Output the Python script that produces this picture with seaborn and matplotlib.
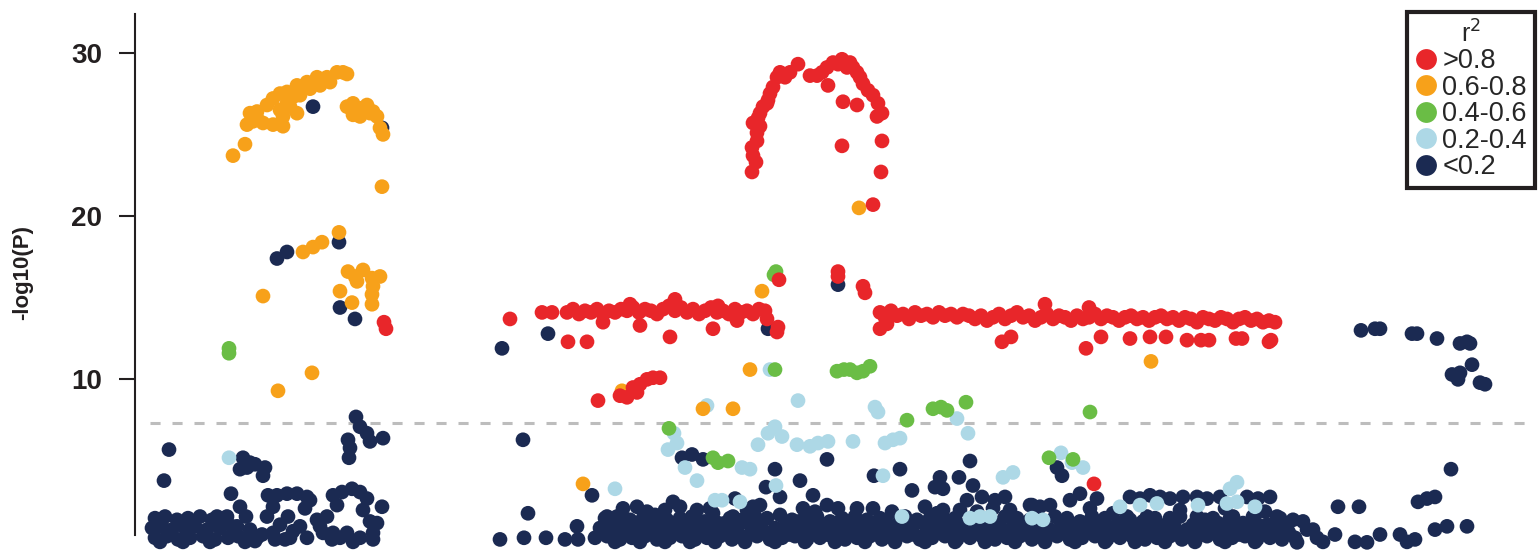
import pandas as pd
import numpy as np
import matplotlib
matplotlib.use('Agg')
import matplotlib.pyplot as plt
from matplotlib.lines import Line2D
import seaborn as sns

# LD bins, drawing order low -> high so the red SNPs end up on top
r2_bins = ['<0.2', '0.2-0.4', '0.4-0.6', '0.6-0.8', '>0.8']
legend_order = ['>0.8', '0.6-0.8', '0.4-0.6', '0.2-0.4', '<0.2']
r2_colors = {'>0.8': '#E8262A', '0.6-0.8': '#F7A11A', '0.4-0.6': '#6ABD45',
             '0.2-0.4': '#ADD8E6', '<0.2': '#1B2A52'}
gw_threshold = 7.3

# (position in kb from window start, -log10(P))
snps_r2_08 = [
    (617, 22.7), (618, 23.7), (617, 24.2), (621, 23.3), (622, 24.6), (622, 25.1), (625, 25.5), (623, 26.0),
    (618, 25.7), (625, 26.3), (628, 26.7), (632, 26.9), (633, 27.1), (635, 27.5), (638, 27.9), (642, 28.5),
    (645, 28.8), (650, 28.5), (655, 28.8), (663, 29.3), (675, 28.6), (682, 28.6), (687, 28.8), (692, 29.1),
    (698, 29.4), (703, 29.3), (707, 29.6), (712, 29.1), (715, 29.4), (718, 29.1), (693, 28.0), (708, 27.0),
    (722, 28.8), (725, 28.5), (728, 28.1), (722, 26.8), (733, 27.7), (738, 27.4), (743, 26.9), (747, 26.3),
    (742, 26.1), (707, 24.3), (747, 24.6), (746, 22.7), (738, 20.7),
    (644, 16.1), (703, 16.6), (703, 16.3), (728, 15.7), (730, 15.3), (643, 13.2), (642, 12.9),
    (249, 13.5), (251, 13.1),
    (463, 8.7), (485, 9.0), (492, 8.9), (498, 9.5), (502, 9.2), (505, 9.7), (512, 10.0), (518, 10.1), (525, 10.1),
    (959, 3.6),
    (375, 13.7), (407, 14.1), (417, 14.1),
    (432, 14.1), (438, 14.3), (444, 14.0), (450, 14.2), (456, 14.1), (462, 14.3), (468, 14.0), (474, 14.2),
    (480, 14.1), (486, 14.3), (492, 14.2), (498, 14.4), (504, 14.1), (510, 14.3), (516, 14.2), (522, 14.0),
    (528, 14.3), (534, 14.5), (540, 14.2), (546, 14.4), (552, 14.1), (558, 14.3), (564, 14.0), (570, 14.2),
    (576, 14.4), (582, 14.1), (588, 14.2), (594, 14.0), (600, 14.3), (606, 14.1), (612, 14.2), (618, 14.0),
    (624, 14.3), (630, 14.2), (632, 13.7),
    (540, 14.9), (495, 14.6), (583, 14.5), (468, 13.5), (505, 13.3), (578, 13.1), (535, 12.6), (433, 12.3),
    (452, 12.3), (602, 13.6),
    (745, 14.1), (750, 13.8), (756, 14.2), (762, 13.9), (768, 14.0), (774, 13.7), (780, 14.1), (786, 13.9),
    (792, 14.0), (798, 13.8), (804, 14.1), (810, 13.9), (816, 14.0), (822, 13.8), (828, 14.0), (834, 13.9),
    (840, 13.7), (846, 13.9), (852, 13.6), (858, 13.8), (864, 14.0), (870, 13.7), (876, 13.9), (882, 14.1),
    (888, 13.8), (894, 13.9), (900, 13.6), (906, 13.8), (912, 14.0), (918, 13.7), (924, 13.9), (930, 13.8),
    (936, 13.6), (942, 13.9), (948, 13.7), (954, 13.8), (960, 14.0), (966, 13.7), (972, 13.9), (978, 13.8),
    (984, 13.6), (990, 13.8), (996, 13.9), (1002, 13.7), (1008, 13.8), (1014, 13.6), (1020, 13.8), (1026, 13.9),
    (1032, 13.7), (1038, 13.8), (1044, 13.6), (1050, 13.8), (1056, 13.7), (1062, 13.5), (1068, 13.8), (1074, 13.7),
    (1080, 13.6), (1086, 13.8), (1092, 13.7), (1098, 13.5), (1104, 13.7), (1110, 13.8), (1116, 13.6), (1122, 13.7),
    (1128, 13.5), (1134, 13.6), (1140, 13.5),
    (745, 13.1), (752, 13.4), (910, 14.6), (954, 14.4), (867, 12.3), (876, 12.6), (951, 11.9), (966, 12.6),
    (995, 12.5), (1015, 12.6), (1031, 12.6), (1052, 12.4), (1066, 12.4), (1074, 12.4), (1101, 12.5), (1107, 12.5),
    (1134, 12.3), (1136, 12.4),
]

snps_r2_06 = [
    (98, 23.7), (110, 24.4), (112, 25.6), (115, 26.3), (122, 26.4), (132, 26.8), (138, 27.2), (145, 27.5),
    (152, 27.6), (162, 28.0), (172, 28.2), (182, 28.5), (192, 28.5), (202, 28.8), (208, 28.8), (212, 28.7),
    (118, 25.8), (128, 25.7), (138, 25.6), (148, 25.5), (145, 26.5), (152, 26.9), (158, 27.3), (162, 26.3),
    (148, 26.1), (122, 26.0), (155, 26.7), (165, 27.4), (175, 27.8), (185, 28.0), (195, 28.2),
    (212, 26.7), (218, 26.9), (225, 26.6), (232, 26.8), (235, 26.3), (238, 26.4), (242, 26.1), (245, 25.4),
    (248, 25.0), (218, 26.2), (225, 26.1), (247, 21.8),
    (168, 17.8), (178, 18.1), (187, 18.4), (204, 19.0),
    (213, 16.6), (220, 16.3), (228, 16.7), (237, 16.2), (245, 16.3), (238, 15.7), (237, 15.2), (222, 16.0),
    (205, 15.4), (217, 14.7), (237, 14.6), (128, 15.1), (177, 10.4), (143, 9.3),
    (724, 20.5), (627, 15.4), (487, 9.3), (615, 10.6), (568, 8.2), (598, 8.2), (448, 3.6), (1016, 11.1),
]

snps_r2_04 = [
    (94, 11.6), (94, 11.9), (641, 16.6), (639, 16.4), (640, 10.6),
    (702, 10.5), (709, 10.6), (715, 10.6), (722, 10.4), (728, 10.5), (735, 10.8),
    (772, 7.5), (798, 8.2), (806, 8.3), (812, 8.1), (831, 8.6), (955, 8.0),
    (534, 7.0), (578, 5.2), (583, 4.9), (593, 5.0), (914, 5.2), (938, 5.1),
]

snps_r2_02 = [
    (94, 5.2), (635, 10.6), (572, 8.4), (663, 8.7), (740, 8.3), (743, 8.0), (822, 7.6), (833, 6.7),
    (539, 6.7), (542, 6.1), (533, 5.7), (550, 4.6), (562, 3.8), (607, 4.6), (615, 4.5),
    (623, 6.0), (633, 6.7), (640, 7.1), (647, 6.5),
    (662, 6.0), (675, 5.9), (683, 6.1), (693, 6.2), (718, 6.2), (750, 6.1), (758, 6.3), (765, 6.4),
    (748, 4.1), (641, 3.5), (480, 3.3), (580, 2.6), (587, 2.6), (605, 2.5), (767, 1.6),
    (835, 1.5), (845, 1.6), (855, 1.6), (868, 4.0), (878, 4.3), (897, 1.5),
    (926, 5.5), (937, 4.9), (948, 4.6), (985, 2.2), (1005, 2.3), (1022, 2.4), (1063, 2.3), (1092, 2.4),
    (1102, 2.5), (1095, 3.3), (1102, 3.7), (1120, 2.2), (908, 1.4),
]

snps_r2_00 = [
    # high-signal SNPs not in LD with the lead
    (178, 26.7), (247, 25.4), (142, 17.4), (152, 17.8), (204, 18.4), (205, 14.4), (220, 13.7),
    (413, 12.8), (367, 11.9), (633, 13.1), (703, 15.8),
    (1226, 13.0), (1240, 13.1), (1245, 13.1), (1277, 12.8), (1282, 12.8), (1302, 12.5), (1325, 12.2),
    (1332, 12.3), (1335, 12.2), (1337, 10.9), (1317, 10.3), (1325, 10.4), (1323, 10.0), (1345, 9.8), (1350, 9.7),
    # right tail
    (1316, 4.5), (1283, 2.5), (1292, 2.7), (1300, 2.8), (1203, 2.2), (1224, 2.2),
    (1168, 1.3), (1172, 0.8), (1182, 0.3), (1188, 0.05), (1200, 0.5), (1220, 0.05), (1232, 0.02), (1245, 0.5),
    (1265, 0.5), (1272, 0.05), (1280, 0.2), (1300, 0.8), (1312, 1.0), (1332, 1.0),
    # left block
    (34, 5.7), (29, 3.8), (96, 3.0), (105, 2.2), (111, 1.6),
    (108, 5.2), (115, 4.9), (120, 4.8), (105, 4.5), (130, 4.6), (128, 4.1), (112, 4.6),
    (221, 7.7), (225, 7.1), (232, 6.7), (235, 6.2), (248, 6.4), (213, 6.3), (215, 5.8), (214, 5.2),
    (133, 2.9), (142, 2.9), (152, 3.0), (162, 3.0), (172, 2.8), (175, 2.6), (170, 2.1),
    (138, 2.2), (153, 1.6), (132, 1.6), (145, 1.1), (158, 0.7),
    (198, 2.9), (207, 3.1), (217, 3.3), (225, 3.1), (232, 2.7), (228, 2.0), (235, 1.3), (247, 2.2),
    (242, 1.2), (238, 0.6), (202, 2.3), (192, 1.6), (185, 1.0), (198, 0.6), (212, 0.6), (225, 0.3),
    (20, 1.5), (30, 1.6), (42, 1.4), (53, 1.5), (65, 1.6), (77, 1.4), (90, 1.5),
    (17, 0.9), (27, 1.0), (37, 0.8), (50, 0.9), (60, 1.0), (72, 0.8), (85, 0.9), (97, 1.0),
    (20, 0.3), (32, 0.4), (43, 0.2), (55, 0.3), (68, 0.4), (80, 0.2), (93, 0.3), (103, 0.4),
    (25, 0.05), (48, 0.05), (75, 0.05), (110, 0.05), (120, 0.1),
    (82, 1.6), (92, 1.6), (102, 1.0), (115, 0.8), (122, 0.3), (127, 0.5), (138, 0.6), (155, 0.3),
    (165, 1.0), (172, 0.3), (182, 1.4), (188, 0.6), (197, 0.2), (205, 0.3), (218, 0.05), (238, 0.2),
    (140, 0.2), (150, 0.2),
    # middle scatter
    (388, 6.3), (547, 5.2), (557, 5.4), (568, 5.1), (457, 2.9), (538, 2.5), (600, 2.7),
    (393, 1.8), (442, 1.0), (365, 0.2), (389, 0.3), (411, 0.3), (430, 0.2), (443, 0.2),
    (692, 5.1), (640, 4.5), (665, 3.8), (631, 3.4), (678, 2.9), (739, 4.1), (765, 4.5), (777, 3.2),
    (835, 5.0), (805, 4.0), (800, 3.4), (808, 3.3), (824, 4.0), (838, 3.5), (847, 2.8), (860, 2.6),
    (870, 2.8), (802, 1.8), (832, 2.6), (897, 2.3), (927, 4.1), (922, 4.6), (945, 3.0), (962, 2.7),
    (995, 2.8), (1005, 2.7), (1015, 2.9), (1025, 2.8), (1035, 2.7), (1048, 2.8),
    (1062, 2.8), (1072, 2.7), (1085, 2.8), (1112, 2.8), (1123, 2.7), (1135, 2.8),
    (1142, 1.6), (1158, 1.4), (1178, 0.8), (1162, 0.02),
    # dense band, upper edge
    (472, 1.6), (482, 1.4), (488, 2.1), (502, 2.2), (512, 1.9), (562, 2.0), (575, 2.1), (578, 1.8),
    (590, 1.2), (598, 1.6), (612, 2.0), (618, 2.2), (625, 2.3), (645, 2.8), (692, 2.3), (703, 2.1),
    (722, 2.1), (738, 2.1), (757, 1.9), (825, 2.0), (858, 2.1), (895, 2.3), (905, 2.2), (915, 2.3),
    (935, 2.6), (978, 1.8), (992, 1.6), (1012, 1.6), (1035, 1.5), (1062, 1.6), (1078, 1.5), (1098, 1.6),
    (1118, 1.6), (530, 2.0), (545, 2.2), (668, 2.1), (680, 1.9), (790, 2.2), (808, 2.0), (842, 1.9),
    (875, 2.0), (955, 2.1), (1045, 2.0), (1090, 2.1), (1130, 1.9),
    # dense band rows
    (470, 1.5), (482, 1.6), (495, 1.4), (508, 1.5), (520, 1.7), (532, 1.4), (545, 1.5), (557, 1.6),
    (570, 1.3), (595, 1.5), (607, 1.4), (620, 1.6), (632, 1.5), (645, 1.7), (657, 1.4), (670, 1.5),
    (682, 1.6), (695, 1.3), (707, 1.5), (720, 1.6), (732, 1.4), (745, 1.5), (770, 1.6), (782, 1.4),
    (795, 1.5), (807, 1.7), (820, 1.5), (845, 1.4), (870, 1.6), (882, 1.5), (895, 1.4), (920, 1.6),
    (932, 1.5), (945, 1.3), (957, 1.6), (970, 1.5), (995, 1.4), (1020, 1.5), (1045, 1.6), (1070, 1.4),
    (1095, 1.5), (1120, 1.3), (1145, 1.5),
    (476, 1.2), (489, 1.3), (501, 1.1), (514, 1.2), (526, 1.3), (539, 1.1), (551, 1.2), (564, 1.3),
    (583, 1.2), (601, 1.1), (614, 1.3), (626, 1.2), (651, 1.1), (664, 1.3), (676, 1.2), (701, 1.2),
    (714, 1.3), (739, 1.1), (751, 1.3), (764, 1.2), (789, 1.2), (801, 1.1), (814, 1.3), (833, 1.2),
    (858, 1.3), (889, 1.1), (908, 1.2), (926, 1.3), (951, 1.2), (964, 1.1), (983, 1.2), (1008, 1.3),
    (1033, 1.2), (1058, 1.1), (1083, 1.2), (1108, 1.2), (1133, 1.1),
    (465, 0.9), (477, 1.0), (490, 0.8), (502, 0.9), (515, 1.1), (527, 0.9), (540, 0.8), (552, 1.0),
    (565, 0.9), (577, 0.8), (590, 1.0), (602, 0.9), (615, 1.1), (627, 0.8), (640, 0.9), (652, 1.0),
    (665, 0.8), (677, 0.9), (690, 1.1), (702, 0.9), (715, 0.8), (727, 1.0), (740, 0.9), (752, 0.8),
    (765, 1.0), (777, 0.9), (790, 1.1), (802, 0.8), (815, 0.9), (827, 1.0), (840, 0.9), (852, 0.8),
    (865, 1.0), (877, 0.9), (890, 1.1), (902, 0.9), (915, 0.8), (927, 1.0), (940, 0.9), (952, 0.8),
    (965, 1.0), (977, 0.9), (990, 1.1), (1002, 0.9), (1015, 0.8), (1027, 1.0), (1040, 0.9), (1052, 0.8),
    (1065, 1.0), (1077, 0.9), (1090, 1.0), (1102, 0.8), (1115, 0.9), (1127, 1.0), (1140, 0.8), (1152, 0.9),
    (466, 0.6), (479, 0.6), (491, 0.5), (504, 0.6), (516, 0.7), (529, 0.5), (541, 0.6), (554, 0.6),
    (566, 0.5), (579, 0.7), (591, 0.6), (604, 0.5), (616, 0.6), (629, 0.6), (641, 0.7), (654, 0.5),
    (666, 0.6), (679, 0.6), (691, 0.5), (704, 0.7), (716, 0.6), (729, 0.5), (741, 0.6), (754, 0.6),
    (766, 0.7), (779, 0.5), (791, 0.6), (804, 0.6), (816, 0.5), (829, 0.7), (841, 0.6), (854, 0.5),
    (866, 0.6), (879, 0.6), (891, 0.7), (904, 0.5), (916, 0.6), (929, 0.6), (941, 0.5), (954, 0.7),
    (966, 0.6), (979, 0.5), (991, 0.6), (1004, 0.6), (1016, 0.7), (1029, 0.5), (1041, 0.6), (1054, 0.6),
    (1066, 0.5), (1079, 0.7), (1091, 0.6), (1104, 0.5), (1116, 0.6), (1129, 0.6), (1141, 0.5), (1154, 0.6),
    (460, 0.3), (472, 0.4), (485, 0.2), (497, 0.3), (510, 0.4), (522, 0.2), (535, 0.3), (547, 0.4),
    (560, 0.2), (572, 0.3), (585, 0.4), (597, 0.2), (610, 0.3), (622, 0.4), (635, 0.2), (647, 0.3),
    (660, 0.4), (672, 0.2), (685, 0.3), (697, 0.4), (710, 0.2), (722, 0.3), (735, 0.4), (747, 0.2),
    (760, 0.3), (772, 0.4), (785, 0.2), (797, 0.3), (810, 0.4), (822, 0.2), (835, 0.3), (847, 0.4),
    (860, 0.2), (872, 0.3), (885, 0.4), (897, 0.2), (910, 0.3), (922, 0.4), (935, 0.2), (947, 0.3),
    (960, 0.4), (972, 0.2), (985, 0.3), (997, 0.4), (1010, 0.2), (1022, 0.3), (1035, 0.4), (1047, 0.2),
    (1060, 0.3), (1072, 0.4), (1085, 0.2), (1097, 0.3), (1110, 0.4), (1122, 0.2), (1135, 0.3), (1147, 0.2),
    (1160, 0.3),
    (480, 0.05), (530, 0.05), (580, 0.05), (640, 0.05), (700, 0.05), (760, 0.05), (820, 0.05), (880, 0.05),
    (940, 0.05), (1000, 0.05), (1060, 0.05), (1120, 0.05), (505, 0.05), (555, 0.05), (610, 0.05),
    (670, 0.05), (730, 0.05), (790, 0.05), (850, 0.05), (910, 0.05), (970, 0.05), (1030, 0.05), (1090, 0.05),
]

groups = {'<0.2': snps_r2_00, '0.2-0.4': snps_r2_02, '0.4-0.6': snps_r2_04,
          '0.6-0.8': snps_r2_06, '>0.8': snps_r2_08}
frames = []
for b in r2_bins:
    d = pd.DataFrame(groups[b], columns=['pos', 'logp'])
    d['r2'] = b
    frames.append(d)
df = pd.concat(frames, ignore_index=True)

sns.set_theme(style='white')
plt.rcParams['font.family'] = ['Liberation Sans', 'DejaVu Sans']

fig = plt.figure(figsize=(15.39, 5.51), dpi=100)
ax = fig.add_axes([135 / 1539, 0, 1404 / 1539, 1])

sns.scatterplot(data=df, x='pos', y='logp', hue='r2', palette=r2_colors,
                s=112, linewidth=0, legend=False, ax=ax, clip_on=False)

# genome-wide significance line
ax.hlines(gw_threshold, 15, 1395, colors='#BDBDBD', linewidth=2.2,
          linestyles=(0, (3.3, 3.9)), zorder=0)

ax.set_xlim(0, 1404)
ax.set_ylim(-0.51, 33.23)
ax.set_xticks([])
ax.set_yticks([10, 20, 30])
ax.set_xlabel('')
for side in ['top', 'right', 'bottom']:
    ax.spines[side].set_visible(False)
ax.spines['left'].set_color('#231F20')
ax.spines['left'].set_linewidth(1.5)
ax.spines['left'].set_bounds(0.47, 32.4)
ax.tick_params(axis='y', length=11.5, width=1.5, pad=12, labelsize=20,
               color='#231F20', labelcolor='#231F20', left=True)
for lbl in ax.get_yticklabels():
    lbl.set_fontweight('bold')

ax.set_ylabel('-log10(P)', fontsize=16, fontweight='bold', color='#231F20')
ax.yaxis.set_label_coords(-0.0726, 0.505)

handles = [Line2D([], [], marker='o', linestyle='', markersize=15,
                  markerfacecolor=r2_colors[b], markeredgewidth=0) for b in legend_order]
leg = ax.legend(handles, legend_order, title='r$^2$', loc='upper right',
                bbox_to_anchor=(0.9972, 0.978), borderaxespad=0, fontsize=19.5,
                title_fontsize=18, frameon=True, fancybox=False, framealpha=1,
                edgecolor='#231F20', handlelength=0.75, handletextpad=0.25,
                labelspacing=0.02, borderpad=0.3)
leg.get_frame().set_linewidth(3)

fig.savefig('out.png', dpi=100)
plt.close(fig)
